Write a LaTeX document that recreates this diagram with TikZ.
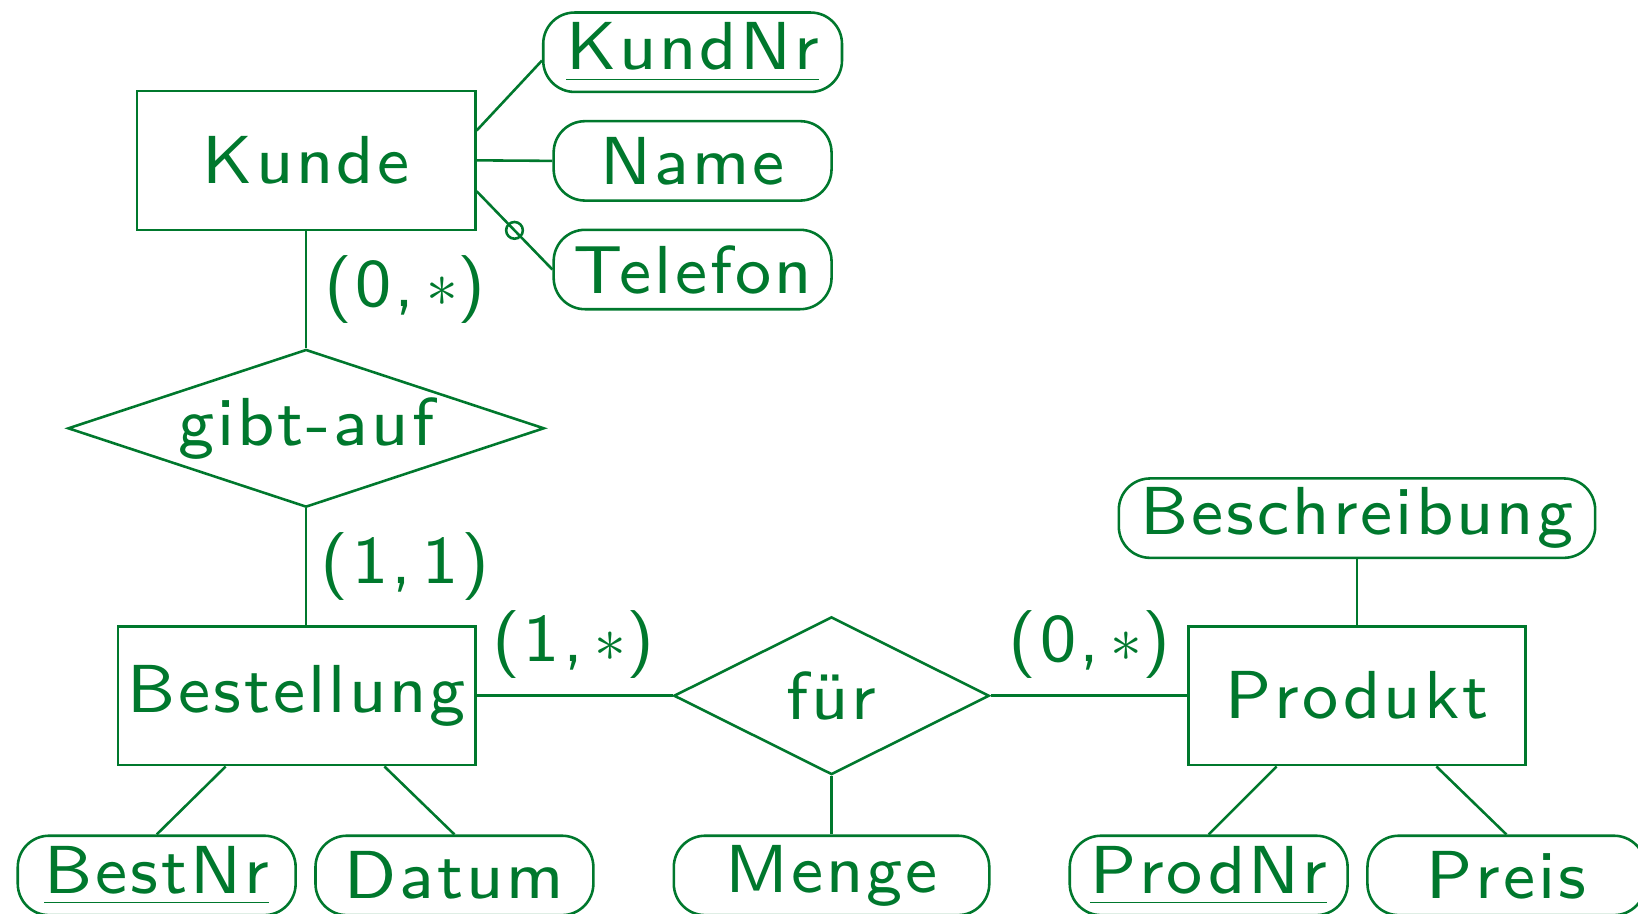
\documentclass[tikz,border=0pt]{standalone}
\usepackage{fontspec}
\newfontfamily\slidesans{lmsans8-regular}[Extension=.otf,LetterSpace=4.5]
\usetikzlibrary{shapes.geometric,positioning,calc}
\definecolor{er green}{RGB}{0,120,45}
\newcommand{\keyattr}[1]{\underline{\raisebox{0pt}[\height][1.2pt]{#1}}}
\tikzset{
    % Colors
    diagram color/.style={color=er green},
    %
    % Shapes
    entity/.style={draw,rectangle,minimum width=#1,minimum height=1.33cm,inner sep=0pt},
    entity/.default=3.24cm,
    attribute/.style={draw,rounded corners=0.3cm,minimum height=0.76cm,minimum width=#1,inner sep=0pt},
    attribute/.default=2.66cm,
    relationship/.style={draw,diamond,inner sep=0pt,aspect=#1},
    %
    % Lines
    link/.style={line width=0.7pt},
    optional mark/.style={circle,draw,inner sep=0pt,minimum size=0.16cm,font=\tiny},
}
\tikzstyle{every node}=[font=\fontsize{18.5}{22}\slidesans]

\begin{document}
\begin{tikzpicture}[diagram color,link]
    \useasboundingbox (0,0) rectangle (15.68,8.74);
    % Kunde and its attributes
    \node[entity] (kunde) at (2.93,7.205) {Kunde};
    \node[attribute=2.86cm] (kundnr) at (6.63,8.24) {\keyattr{KundNr}};
    \node[attribute] (name) at (6.63,7.20) {Name};
    \node[attribute] (telefon) at (6.63,6.16) {Telefon};
    \draw ($(kunde.east)+(0,0.285)$) -- ($(kundnr.west)+(0,-0.08)$);
    \draw (kunde.east) -- (name.west);
    \draw ($(kunde.east)+(0,-0.295)$) -- node[optional mark] (telmark) {} (telefon.west);
    %
    % gibt-auf
    \node[relationship=3,minimum width=4.56cm,minimum height=1.51cm] (gibtauf) at (2.93,4.64) {gibt-auf};
    \draw (kunde) -- (gibtauf);
    \node (card kunde) at (3.88,5.97) {(0,\,$*$)};
    %
    % Bestellung
    \node[entity=3.42cm] (bestellung) at (2.84,2.08) {Bestellung};
    \draw (gibtauf.south) -- (gibtauf.south |- bestellung.north);
    \node (card gibtauf) at (3.88,3.32) {(1,\,1)};
    \node[attribute] (bestnr) at (1.50,0.36) {\keyattr{BestNr}};
    \node[attribute] (datum) at (4.35,0.36) {Datum};
    \draw ($(bestellung.south)+(-0.68,0)$) -- (bestnr.north);
    \draw ($(bestellung.south)+(0.84,0)$) -- (datum.north);
    %
    % fuer
    \node[relationship=2,minimum width=3.02cm,minimum height=1.51cm] (fuer) at (7.96,2.08) {für};
    \node[attribute=3.02cm] (menge) at (7.96,0.36) {Menge};
    \draw (bestellung) -- (fuer);
    \draw (fuer) -- (menge);
    \node (card bestellung) at (5.49,2.57) {(1,\,$*$)};
    \node (card produkt) at (10.43,2.57) {(0,\,$*$)};
    %
    % Produkt
    \node[entity=3.23cm] (produkt) at (12.99,2.08) {Produkt};
    \draw (fuer) -- (produkt);
    \node[attribute=4.56cm] (beschreibung) at (12.99,3.78) {Beschreibung};
    \draw (beschreibung) -- (produkt);
    \node[attribute] (prodnr) at (11.57,0.36) {\keyattr{ProdNr}};
    \node[attribute] (preis) at (14.42,0.36) {Preis};
    \draw ($(produkt.south)+(-0.77,0)$) -- (prodnr.north);
    \draw ($(produkt.south)+(0.76,0)$) -- (preis.north);
\end{tikzpicture}
\end{document}
